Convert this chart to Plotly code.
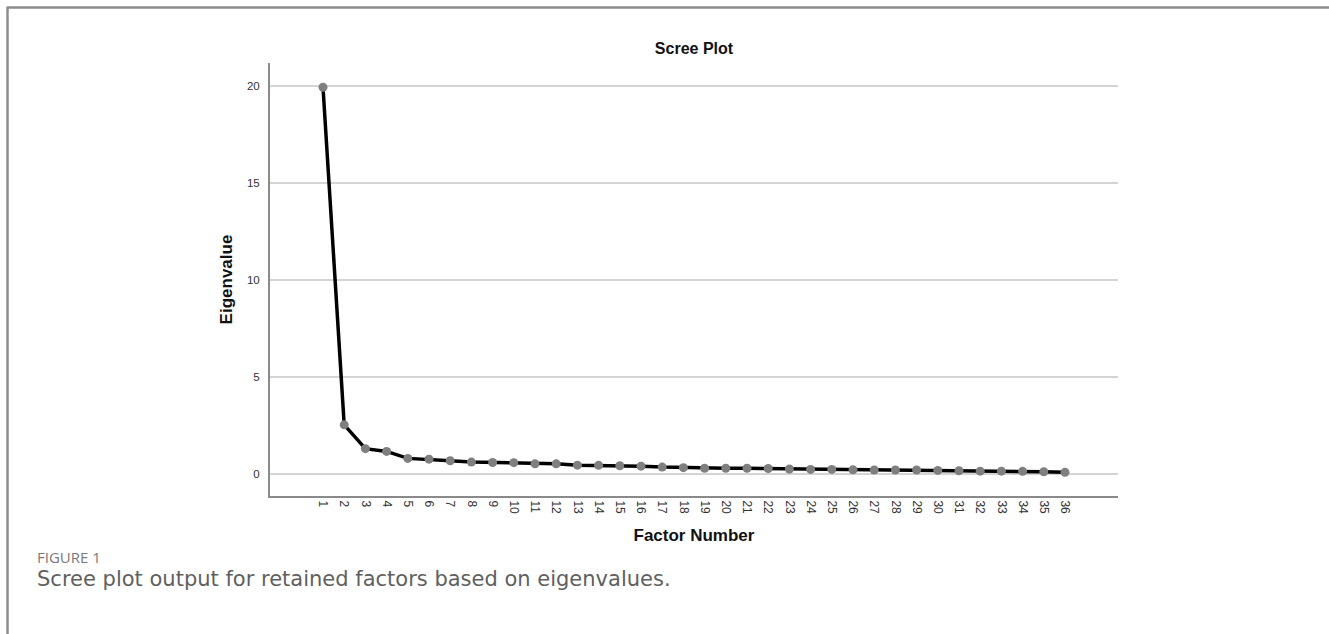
import plotly.graph_objects as go

factors = list(range(1, 37))
eigenvalues = [19.95, 2.54, 1.31, 1.17, 0.81, 0.77, 0.69, 0.62, 0.60, 0.59,
               0.53, 0.53, 0.46, 0.45, 0.43, 0.41, 0.36, 0.33, 0.30, 0.30,
               0.30, 0.29, 0.26, 0.24, 0.24, 0.22, 0.21, 0.21, 0.21, 0.19,
               0.17, 0.15, 0.15, 0.14, 0.12, 0.09]
x_tick_labels = [str(f) for f in factors]
y_tick_vals = [0, 5, 10, 15, 20]

fig = go.Figure()
fig.add_trace(go.Scatter(
    x=factors, y=eigenvalues, mode="lines+markers",
    line=dict(color="black", width=3.5),
    marker=dict(color="#7f7f7f", size=9),
    showlegend=False, hoverinfo="x+y",
))

L, R, T, B = 270, 211, 63, 138
W, H = 1329, 634
pw, ph = W - L - R, H - T - B

def px_x(px):
    return (px - L) / pw

def px_y(py):
    return (H - B - py) / ph

fig.update_layout(
    width=W, height=H,
    margin=dict(l=L, r=R, t=T, b=B, pad=0),
    paper_bgcolor="white", plot_bgcolor="white",
    font=dict(family="Liberation Sans, Arial, sans-serif", color="#333333"),
    title=dict(text="<b>Scree Plot</b>", x=0.5, xref="paper", xanchor="center",
               y=1 - 48 / H, yanchor="middle", font=dict(size=16, color="#111")),
    xaxis=dict(
        range=[-1.5, 38.5], tickmode="array", tickvals=factors, ticktext=x_tick_labels,
        tickangle=90, tickfont=dict(size=12, color="#333333"), showgrid=False, zeroline=False,
        showline=True, linecolor="#8a8a8a", linewidth=2, ticks="",
        title=dict(text="<b>Factor Number</b>", font=dict(size=17, color="#111"), standoff=16),
    ),
    yaxis=dict(
        range=[-1.13, 21.2], tickmode="array", tickvals=y_tick_vals,
        tickfont=dict(size=11.5, color="#333333"), showgrid=True, gridcolor="#d4d4d4", gridwidth=1.5,
        zeroline=False, showline=True, linecolor="#8a8a8a", linewidth=2, ticks="",
        ticklabelstandoff=6,
        title=dict(text="<b>Eigenvalue</b>", font=dict(size=17, color="#111"), standoff=10),
    ),
    shapes=[
        dict(type="line", xref="paper", yref="paper", x0=px_x(7), x1=px_x(W + 5),
             y0=px_y(7.5), y1=px_y(7.5), line=dict(color="#8c8c8c", width=2.5)),
        dict(type="line", xref="paper", yref="paper", x0=px_x(7.5), x1=px_x(7.5),
             y0=px_y(7), y1=px_y(H + 5), line=dict(color="#8c8c8c", width=2.5)),
    ],
    annotations=[
        dict(text="FIGURE 1", xref="paper", yref="paper", x=px_x(35), y=px_y(557),
             xanchor="left", yanchor="middle", showarrow=False,
             font=dict(family="Open Sans, Noto Sans, sans-serif", size=15, color="#7a7a7a")),
        dict(text="Scree plot output for retained factors based on eigenvalues.",
             xref="paper", yref="paper", x=px_x(35), y=px_y(579),
             xanchor="left", yanchor="middle", showarrow=False,
             font=dict(family="DejaVu Sans, Open Sans, sans-serif", size=21, color="#5f5f5f")),
    ],
)

fig.write_html("out.html", config={"displayModeBar": False},
               post_script="document.body.style.margin='0px';")
